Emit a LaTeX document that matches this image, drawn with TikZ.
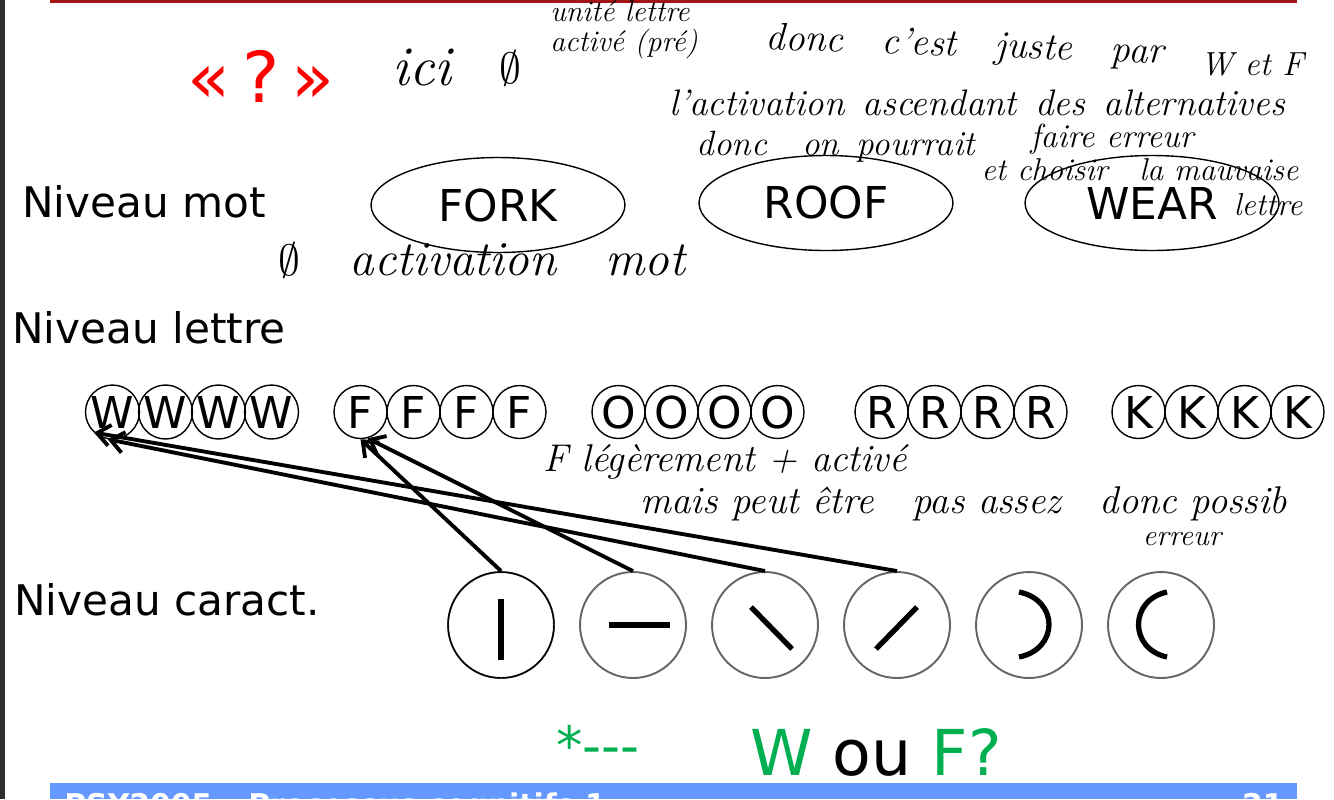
\documentclass[tikz,border=0pt]{standalone}
\usepackage[dvipsnames]{xcolor}
\usepackage{fontspec}
\setsansfont{DejaVu Sans}
\usepackage{amssymb}
\usepackage{tikz}
\usetikzlibrary{positioning, shapes.geometric, arrows.meta, calc}

\definecolor{titlered}{HTML}{A31515}
\definecolor{barblue}{HTML}{6699FF}
\definecolor{slidegreen}{HTML}{00B050}
\definecolor{stripgray}{HTML}{2E2E2E}

\begin{document}
\begin{tikzpicture}[x=0.02cm, y=-0.02cm,
  big/.style={font=\sffamily\fontsize{24}{28}\selectfont, inner sep=0pt},
  word/.style={ellipse, draw, line width=0.8pt, minimum width=5.08cm, minimum height=1.9cm, inner sep=0pt, font=\sffamily\fontsize{25}{28}\selectfont},
  lcirc/.style={circle, draw, line width=0.8pt, minimum size=1.06cm, inner sep=0pt, font=\sffamily\fontsize{25}{28}\selectfont},
  feat/.style={circle, draw=black!60, line width=1.1pt, minimum size=2.12cm, inner sep=0pt},
  stroke/.style={line width=3pt},
  arr/.style={-{Straight Barb[length=2.6mm, width=4.2mm]}, line width=2.2pt},
  hw/.style={font=\itshape\fontsize{#1}{#1}\selectfont, inner sep=0pt},
  hw/.default=20
]
  \useasboundingbox (0,0) rectangle (1334,799);

  % Slide frame
  \fill[stripgray] (0,0) rectangle (5,799);
  \draw[titlered, line width=2pt] (50,1) -- (1297,1);
  \begin{scope}
    \clip (50,783) rectangle (1297,799);
    \fill[barblue] (50,783) rectangle (1297,799);
    \node[font=\sffamily\bfseries\fontsize{17}{20}\selectfont, text=white, anchor=base west, inner sep=0pt] (foot) at (64,815) {PSY2005 -- Processus cognitifs 1};
    \node[font=\sffamily\bfseries\fontsize{17}{20}\selectfont, text=white, anchor=base east, inner sep=0pt] (page) at (1284,815) {21};
  \end{scope}

  % Question
  \node[font=\sffamily\fontsize{40}{44}\selectfont, text=red, inner sep=0pt] (quest) at (261,76) {«\,?\,»};

  % Niveau mot
  \node[big, anchor=west] (mot) at (22,202) {Niveau mot};
  \node[word] (fork) at (498,205) {FORK};
  \node[word] (roof) at (826,203) {ROOF};
  \node[word] (wear) at (1152,203) {WEAR};

  % Niveau lettre
  \node[big, anchor=west] (lettre) at (12,328) {Niveau lettre};
  \foreach \lt/\gx in {W/86, F/334, O/592, R/855, K/1112}
    \foreach \i in {1,...,4}
      \node[lcirc] (\lt\i) at ({\gx+26.5+53*(\i-1)},412) {\lt};

  % Niveau caract.
  \node[big, anchor=west] (caract) at (14,600) {Niveau caract.};
  \foreach \i in {1,...,6}
    \node[feat] (c\i) at ({501+132*(\i-1)},625) {};
  \node[feat, draw=black, line width=0.8pt] at (c1) {};

  \draw[stroke] (501,599) -- (501,660);
  \draw[stroke] (609,625) -- (670,625);
  \draw[stroke] (751,607) -- (792,649);
  \draw[stroke] (876,649) -- (917,607);
  \draw[stroke] (1019,592) .. controls (1059,600) and (1059,649) .. (1019,657);
  \draw[stroke] (1167,592) .. controls (1129,600) and (1129,649) .. (1167,657);

  % Connections
  \draw[arr] (c1.north) -- (F1.south);
  \draw[arr] (c2.north) -- (F1.285);
  \draw[arr] (c3.north) -- (W1.260);
  \draw[arr] (c4.north) -- (W1.228);

  % Bottom line
  \node[font=\sffamily\fontsize{30}{34}\selectfont, text=slidegreen, inner sep=0pt] (star) at (598,745) {*{-}{-}{-}};
  \node[font=\sffamily\fontsize{36}{40}\selectfont, inner sep=0pt] (wouf) at (876,752) {\textcolor{slidegreen}{W} ou \textcolor{slidegreen}{F?}};

  % Handwritten notes
  \node[hw=32] (ici) at (422,68) {ici};
  \node[hw=36] (vide) at (510,68) {$\emptyset$};
  \node[hw=17, align=left] (unite) at (624,30) {unité lettre\\activé (pré)};
  \node[hw=22, rotate=-2] (juste) at (965,47) {donc\quad c'est\quad juste\quad par};
  \node[hw=19] (wetf) at (1252,64) {W et F};
  \node[hw=21] (ascend) at (977,103) {l'activation\enspace ascendant\enspace des\enspace alternatives};
  \node[hw=20] (pourrait) at (836,147) {donc\quad on\enspace pourrait};
  \node[hw=19] (faire) at (1112,139) {faire erreur};
  \node[hw=18] (choisir) at (1140,170) {et choisir\quad la mauvaise};
  \node[hw=18] (lettrenote) at (1268,205) {lettre};
  \node[hw=28] (motvide) at (482,260) {$\emptyset$\quad activation\quad mot};
  \node[hw=22] (legere) at (725,462) {F légèrement + activé};
  \node[hw=22, anchor=west] (assez) at (640,504) {mais peut être\quad pas assez\quad donc possib};
  \node[hw=17] (erreurb) at (1182,539) {erreur};

\end{tikzpicture}
\end{document}
